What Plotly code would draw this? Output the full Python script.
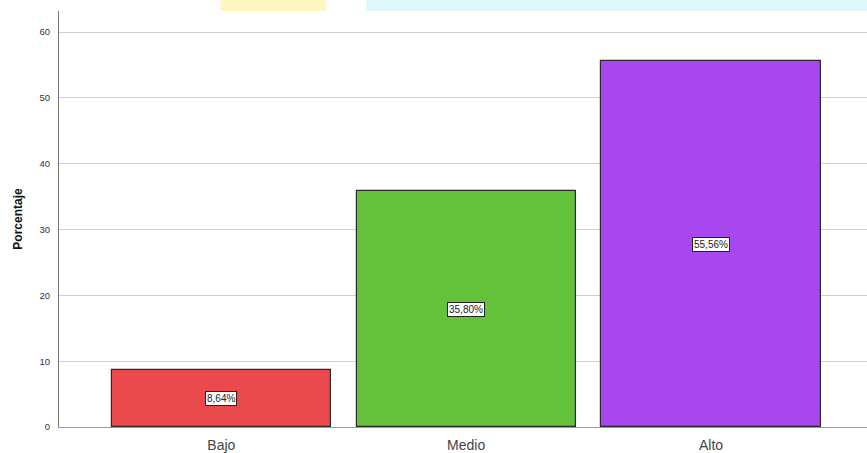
import plotly.graph_objects as go

categories = ["Bajo", "Medio", "Alto"]
values = [8.64, 35.80, 55.56]
labels = ["8,64%", "35,80%", "55,56%"]
colors = ["#EA4A4C", "#63C23A", "#A846F0"]
y_ticks = [0, 10, 20, 30, 40, 50, 60]

fig = go.Figure()
fig.add_trace(go.Bar(
    x=list(range(len(categories))), y=values,
    marker=dict(color=colors, line=dict(color="#2a2a2a", width=1.2)),
    width=0.895, hoverinfo="skip",
))

for i, (v, lab) in enumerate(zip(values, labels)):
    fig.add_annotation(
        x=i, y=v / 2, text=lab, showarrow=False,
        font=dict(family="Liberation Sans, Arial", size=10, color="#222"),
        bgcolor="white", bordercolor="#222", borderwidth=1, borderpad=1,
    )

# faint watermark band at top
fig.add_shape(type="rect", xref="paper", yref="paper", x0=0.38, x1=1.0, y0=1.0, y1=1.03,
              fillcolor="#DDF8FA", line=dict(width=0), layer="below")
fig.add_shape(type="rect", xref="paper", yref="paper", x0=0.2, x1=0.33, y0=1.0, y1=1.03,
              fillcolor="#FFF6C0", line=dict(width=0), layer="below")

fig.update_layout(
    width=867, height=453,
    margin=dict(l=59, r=0, t=11, b=26),
    paper_bgcolor="white", plot_bgcolor="white",
    showlegend=False,
    bargap=0,
    xaxis=dict(
        range=[-0.663, 2.637],
        tickmode="array", tickvals=list(range(len(categories))), ticktext=categories,
        tickfont=dict(family="Liberation Sans, Arial", size=14, color="#444"),
        showgrid=False, zeroline=False,
        showline=True, linecolor="#999", linewidth=1,
        ticks="", ticklabelstandoff=5,
    ),
    yaxis=dict(
        range=[0, 63.2],
        tickmode="array", tickvals=y_ticks,
        tickfont=dict(family="Liberation Sans, Arial", size=9.5, color="#333"),
        showgrid=True, gridcolor="#CFCFCF", gridwidth=1,
        zeroline=False,
        showline=True, linecolor="#777", linewidth=1,
        ticks="", ticklabelstandoff=6,
        title=dict(text="<b>Porcentaje</b>",
                   font=dict(family="Liberation Sans, Arial", size=12, color="#111"),
                   standoff=14),
    ),
)

fig.write_html("out.html", config={"displayModeBar": False},
               post_script="document.body.style.margin='0';document.body.style.overflow='hidden';")
